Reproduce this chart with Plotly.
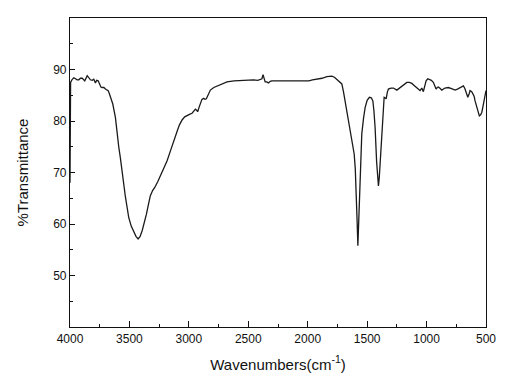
import plotly.graph_objects as go

# FTIR spectrum
wavenumber = [4000, 3995, 3981, 3968, 3954, 3940, 3926, 3912, 3897, 3876, 3855, 3842, 3828, 3813,
              3800, 3786, 3775, 3763, 3750, 3740, 3729, 3715, 3702, 3690, 3679, 3670, 3660, 3640,
              3618, 3605, 3590, 3576, 3561, 3548, 3534, 3520, 3506, 3485, 3464, 3445, 3427, 3410,
              3393, 3375, 3357, 3340, 3324, 3305, 3287, 3260, 3239, 3210, 3183, 3155, 3128, 3100,
              3080, 3057, 3035, 3015, 2995, 2973, 2958, 2945, 2935, 2926, 2915, 2903, 2890, 2876,
              2865, 2853, 2835, 2819, 2790, 2763, 2720, 2679, 2620, 2567, 2500, 2456, 2420, 2399,
              2385, 2376, 2366, 2358, 2345, 2330, 2315, 2301, 2240, 2175, 2100, 2035, 1990, 1960,
              1923, 1880, 1839, 1797, 1775, 1755, 1735, 1713, 1700, 1685, 1670, 1657, 1643, 1629,
              1615, 1609, 1600, 1593, 1585, 1578, 1570, 1560, 1545, 1530, 1517, 1500, 1481, 1465,
              1452, 1443, 1433, 1420, 1410, 1405, 1398, 1385, 1375, 1368, 1357, 1350, 1340, 1330,
              1321, 1300, 1279, 1250, 1230, 1208, 1185, 1166, 1145, 1124, 1100, 1077, 1065, 1055,
              1040, 1027, 1015, 1004, 990, 977, 960, 943, 930, 920, 910, 901, 885, 872,
              845, 817, 790, 760, 740, 718, 690, 678, 668, 653, 640, 634, 620, 611,
              600, 592, 575, 556, 545, 535, 525, 516, 508, 500]
transmittance = [68.0, 87.5, 88.1, 88.4, 88.2, 88.0, 88.0, 88.3, 88.3, 87.8, 88.8, 88.3, 88.0, 87.9,
                 88.1, 87.4, 87.9, 87.8, 87.2, 86.6, 86.5, 86.5, 86.2, 86.0, 85.9, 85.4, 84.6, 83.3,
                 80.7, 77.5, 75.0, 72.8, 69.9, 67.8, 65.3, 63.3, 61.3, 59.6, 58.4, 57.6, 57.1, 57.6,
                 58.7, 60.2, 61.9, 63.8, 65.5, 66.5, 67.1, 68.3, 69.4, 70.8, 72.3, 74.2, 76.2, 77.9,
                 79.2, 80.2, 80.8, 81.1, 81.3, 81.5, 81.9, 82.3, 82.1, 81.8, 82.6, 83.6, 84.2, 84.4,
                 84.2, 84.3, 85.3, 86.0, 86.5, 86.8, 87.3, 87.6, 87.8, 87.9, 88.0, 88.0, 87.9, 88.0,
                 88.2, 89.0, 88.2, 87.6, 87.6, 87.4, 87.7, 87.8, 87.8, 87.8, 87.7, 87.7, 87.8, 88.0,
                 88.1, 88.3, 88.6, 88.7, 88.5, 88.1, 87.8, 87.2, 85.8, 83.9, 81.8, 80.0, 78.1, 76.2,
                 74.5, 73.6, 70.8, 67.1, 61.0, 55.8, 60.5, 68.0, 77.5, 80.6, 82.6, 84.0, 84.6, 84.5,
                 83.9, 82.0, 78.7, 72.0, 68.0, 67.4, 69.0, 74.2, 79.5, 82.6, 84.6, 84.5, 84.3, 85.6,
                 86.2, 86.4, 86.4, 86.0, 86.4, 86.8, 87.3, 87.5, 87.5, 87.3, 86.8, 86.2, 86.1, 85.9,
                 86.4, 85.7, 86.8, 87.8, 88.2, 88.1, 87.9, 87.5, 86.8, 86.2, 86.5, 86.6, 86.3, 86.0,
                 86.4, 86.5, 86.3, 86.0, 86.2, 86.5, 86.8, 86.3, 85.5, 84.6, 85.4, 85.9, 85.7, 85.3,
                 84.8, 83.9, 82.5, 81.0, 81.2, 81.7, 82.9, 83.9, 85.0, 85.9]

y_ticks = [50, 60, 70, 80, 90]
y_minor = [45, 55, 65, 75, 85, 95]

fig = go.Figure(go.Scatter(x=wavenumber, y=transmittance, mode="lines",
                           line=dict(color="#1a1a1a", width=1.3)))

fig.update_layout(
    width=507, height=387,
    margin=dict(l=70, r=21, t=18, b=60),
    paper_bgcolor="white", plot_bgcolor="white",
    showlegend=False,
    font=dict(family="Liberation Sans, Arial, sans-serif", size=12, color="#111"),
)
fig.update_xaxes(
    range=[4000, 500], tickmode="linear", tick0=500, dtick=500,
    showgrid=False, zeroline=False,
    showline=True, linecolor="#111", linewidth=1.2, mirror=True,
    ticks="inside", ticklen=6, tickwidth=1, tickcolor="#111",
    minor=dict(ticks="inside", ticklen=3, dtick=250, tick0=500, tickcolor="#111", showgrid=False),
    title=dict(text="Wavenumbers(cm<sup>-1</sup>)", font=dict(size=15), standoff=14),
    tickfont=dict(size=12),
)
fig.update_yaxes(
    range=[40, 100], tickmode="array", tickvals=y_ticks,
    showgrid=False, zeroline=False,
    showline=True, linecolor="#111", linewidth=1.2, mirror=True,
    ticks="inside", ticklen=5, tickwidth=1, tickcolor="#111",
    minor=dict(ticks="inside", ticklen=3, tickvals=y_minor, tickcolor="#111", showgrid=False),
    title=dict(text="%Transmittance", font=dict(size=15), standoff=20),
    tickfont=dict(size=12),
)

fig.write_html("out.html", config={"displayModeBar": False},
               post_script="document.body.style.margin='0';")
